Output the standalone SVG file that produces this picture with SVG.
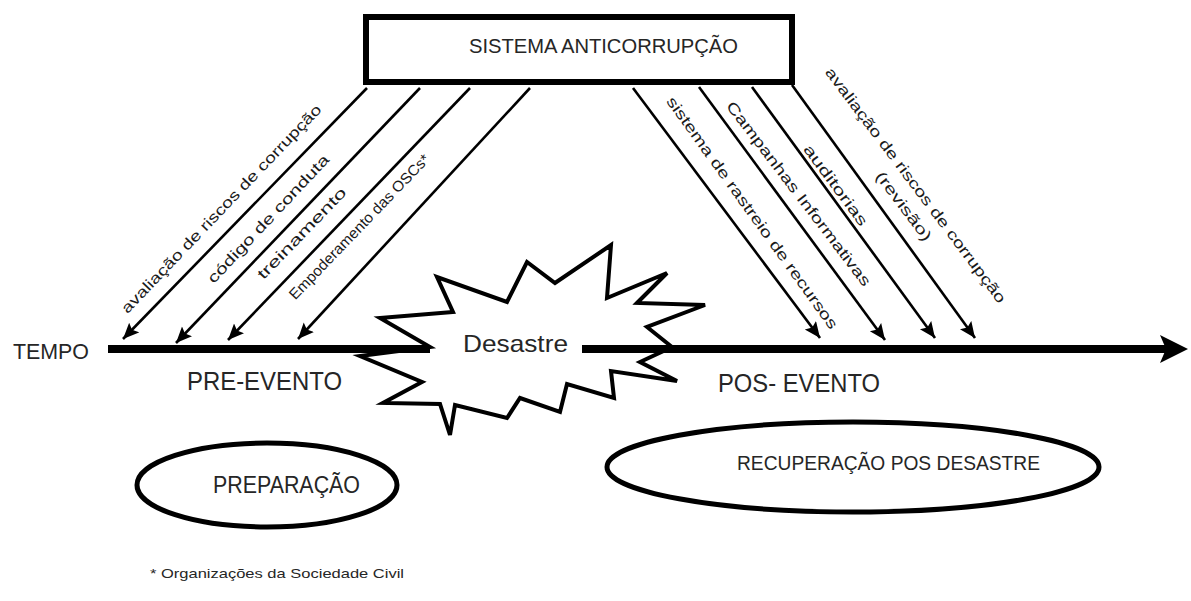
<svg xmlns="http://www.w3.org/2000/svg" width="1191" height="601" viewBox="0 0 1191 601">
<style>
.t{font-family:"Liberation Sans",Arial,sans-serif;fill:#262626}
.lbl{font-family:"Liberation Sans",Arial,sans-serif;fill:#1a1a1a;font-size:15px}
.ar{stroke:#000;stroke-width:2.6;fill:none}
.shape{fill:#fff;stroke:#000}
</style>
<defs>
<marker id="ah" markerUnits="userSpaceOnUse" markerWidth="18" markerHeight="16" refX="16" refY="7" orient="auto">
<path d="M0,0 L16,7 L0,14 L3,7 z" fill="#000"/>
</marker>
</defs>
<rect width="1191" height="601" fill="#fff"/>

<g id="starburst">
<polygon class="shape" stroke-width="4" stroke-linejoin="miter" points="380,318 453,312 437,277 507,302 527,262 555,283 611,245 607,298 667,273 637,303 705,305 647,327 672,347 640,362 677,381 611,371 614,398 567,384 560,412 520,398 507,418 455,405 450,435 440,404 383,403 422,382 360,356 430,347"/>
<text class="t" x="463" y="352" font-size="24" textLength="105" lengthAdjust="spacingAndGlyphs">Desastre</text>
</g>

<g id="connectors">
<line x1="108" y1="349" x2="430" y2="349" stroke="#000" stroke-width="8"/>
<line x1="582" y1="349" x2="1166" y2="349" stroke="#000" stroke-width="8"/>
<polygon points="1160,335 1188,349 1160,363 1166,349" fill="#000"/>
<line class="ar" x1="367" y1="88" x2="123" y2="339" marker-end="url(#ah)"/>
<line class="ar" x1="420" y1="88" x2="176" y2="343" stroke-width="3" marker-end="url(#ah)"/>
<line class="ar" x1="470" y1="88" x2="228" y2="340" marker-end="url(#ah)"/>
<line class="ar" x1="530" y1="88" x2="298" y2="339" marker-end="url(#ah)"/>
<line class="ar" x1="633" y1="88" x2="820" y2="338" marker-end="url(#ah)"/>
<line class="ar" x1="699" y1="87" x2="885" y2="340" marker-end="url(#ah)"/>
<line class="ar" x1="752" y1="87" x2="935" y2="338" stroke-width="1.5" marker-end="url(#ah)"/>
<line class="ar" x1="792" y1="85" x2="975" y2="338" marker-end="url(#ah)"/>
</g>

<g id="arrow-labels">
<text class="lbl" text-anchor="middle" dominant-baseline="central" textLength="282" lengthAdjust="spacingAndGlyphs" transform="translate(221,208.5) rotate(-46.3)">avaliação de riscos de corrupção</text>
<text class="lbl" text-anchor="middle" dominant-baseline="central" textLength="170" lengthAdjust="spacingAndGlyphs" transform="translate(268,218.5) rotate(-46.8)">código de conduta</text>
<text class="lbl" text-anchor="middle" dominant-baseline="central" textLength="121" lengthAdjust="spacingAndGlyphs" transform="translate(301.5,233) rotate(-46)">treinamento</text>
<text class="lbl" text-anchor="middle" dominant-baseline="central" textLength="195" lengthAdjust="spacingAndGlyphs" transform="translate(359,226.5) rotate(-46.1)">Empoderamento das OSCs*</text>
<text class="lbl" text-anchor="middle" dominant-baseline="central" textLength="282" lengthAdjust="spacingAndGlyphs" transform="translate(752.5,212.5) rotate(54.3)">sistema de rastreio de recursos</text>
<text class="lbl" text-anchor="middle" dominant-baseline="central" textLength="228" lengthAdjust="spacingAndGlyphs" transform="translate(799,193.5) rotate(52.7)">Campanhas Informativas</text>
<text class="lbl" text-anchor="middle" dominant-baseline="central" textLength="97" lengthAdjust="spacingAndGlyphs" transform="translate(836,185) rotate(53.4)">auditorias</text>
<text class="lbl" text-anchor="middle" dominant-baseline="central" textLength="290" lengthAdjust="spacingAndGlyphs" transform="translate(916,185) rotate(53.1)">avaliação de riscos de corrupção</text>
<text class="lbl" text-anchor="middle" dominant-baseline="central" textLength="83" lengthAdjust="spacingAndGlyphs" transform="translate(904,206) rotate(53)">(revisão)</text>
</g>

<g id="sistema">
<rect class="shape" x="366" y="17" width="426" height="65" stroke-width="6"/>
<text class="t" x="469" y="53" font-size="21" textLength="269" lengthAdjust="spacingAndGlyphs">SISTEMA ANTICORRUPÇÃO</text>
</g>

<g id="tempo">
<text class="t" x="13" y="359" font-size="22" textLength="76" lengthAdjust="spacingAndGlyphs">TEMPO</text>
</g>
<g id="pre-evento">
<text class="t" x="187" y="390" font-size="25" textLength="155" lengthAdjust="spacingAndGlyphs">PRE-EVENTO</text>
</g>
<g id="pos-evento">
<text class="t" x="718" y="392" font-size="25" textLength="162" lengthAdjust="spacingAndGlyphs">POS- EVENTO</text>
</g>
<g id="preparacao">
<ellipse class="shape" cx="267" cy="485" rx="130" ry="42" stroke-width="5"/>
<text class="t" x="213" y="493" font-size="24" textLength="147" lengthAdjust="spacingAndGlyphs">PREPARAÇÃO</text>
</g>
<g id="recuperacao">
<ellipse class="shape" cx="853" cy="467" rx="246" ry="45" stroke-width="5"/>
<text class="t" x="737" y="470" font-size="21" textLength="303" lengthAdjust="spacingAndGlyphs">RECUPERAÇÃO POS DESASTRE</text>
</g>
<g id="footnote">
<text class="t" x="150" y="578" font-size="13" textLength="254" lengthAdjust="spacingAndGlyphs">* Organizações da Sociedade Civil</text>
</g>
</svg>
